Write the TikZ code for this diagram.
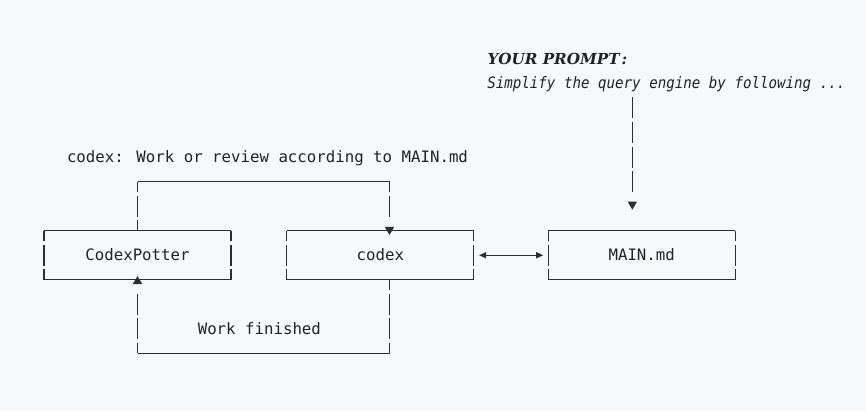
\documentclass[tikz,border=0pt]{standalone}
\usepackage{fontspec}
\newfontfamily\asciimono{DejaVu Sans Mono}
\newfontfamily\promptmono[FakeStretch=0.9]{DejaVu Sans Mono Oblique}
\newfontfamily\promptserif{DejaVu Serif Bold Italic}
\usetikzlibrary{arrows.meta}
\definecolor{bgc}{HTML}{F6F8FA}
\definecolor{ink}{HTML}{1F2328}
\definecolor{linec}{HTML}{2A2D31}
\newcommand\asciiframe[1]{%
  \draw[hline] (#1.north west) -- (#1.north east);
  \draw[hline] (#1.south west) -- (#1.south east);
  \draw[vline] (#1.north west) -- (#1.south west);
  \draw[vline] (#1.north east) -- (#1.south east);}
\begin{document}
\begin{tikzpicture}[x=0.75pt,y=-0.75pt,
  every node/.style={inner sep=0pt, outer sep=0pt, text=ink},
  mono/.style={font=\asciimono\fontsize{11.8pt}{14pt}\selectfont},
  asciibox/.style={mono, minimum width=140.25pt, minimum height=36.825pt, text height=8.6pt, text depth=0pt},
  hline/.style={draw=linec, line width=0.9pt},
  vline/.style={draw=linec, line width=0.9pt, dash pattern=on 15.75pt off 2.6625pt, dash phase=7.875pt},
  tri/.style={-{Triangle[length=6pt,width=6.75pt]}},
  linkdn/.style={draw=linec, line width=0.9pt, tri, dash pattern=on 7.875pt off 2.6625pt on 15.75pt off 40pt, shorten >=-3.2pt},
  linkup/.style={draw=linec, line width=0.9pt, tri, dash pattern=on 7.875pt off 2.6625pt on 15.75pt off 2.6625pt on 15.75pt off 40pt, shorten >=-2.85pt},
  linkprompt/.style={draw=linec, line width=0.9pt, tri, dash pattern=on 15.75pt off 2.6625pt on 15.75pt off 2.6625pt on 15.75pt off 2.6625pt on 15.75pt off 40pt, shorten >=15.75pt},
  linkboth/.style={draw=linec, line width=0.9pt, {Triangle[length=5.3pt,width=4.5pt]}-{Triangle[length=5.3pt,width=4.5pt]}, shorten >=3.75pt, shorten <=3.9pt}
]
\path[use as bounding box, fill=bgc] (0,0) rectangle (866,411);

% boxes
\node[asciibox] (cp) at (137.5,255.25) {CodexPotter};
\node[asciibox] (cx) at (380.3,255.25) {codex};
\node[asciibox] (md) at (641.7,255.25) {MAIN.md};
\asciiframe{cp}
\asciiframe{cx}
\asciiframe{md}

% texts
\node[mono, anchor=base west] (ttl) at (67,162.7) {codex: Work or review according to MAIN.md};
\node[mono, anchor=base west] (wf) at (197.8,334.5) {Work finished};
\node[font=\promptserif\fontsize{11.4pt}{14pt}\selectfont, anchor=base west] (yp) at (487.5,64.3) {YOUR PROMPT\kern1.5pt:};
\node[font=\promptmono\fontsize{11.8pt}{14pt}\selectfont, anchor=base west] (pr) at (487.3,88.8) {Simplify the query engine by following ...};

% corner coordinates
\coordinate (tl) at (137.5,181.5);
\coordinate (tr) at (389.5,181.5);
\coordinate (bl) at (137.5,353.4);
\coordinate (br) at (389.5,353.4);
\coordinate (ps) at (632.3,97.4);

% connectors
\draw[vline] (cp.north) -- (tl);
\draw[hline] (tl) -- (tr);
\draw[linkdn] (tr) -- (cx.north -| tr);
\draw[vline] (cx.south -| br) -- (br);
\draw[hline] (br) -- (bl);
\draw[linkup] (bl) -- (cp.south);
\draw[linkprompt] (ps) -- (ps |- md.north);
\draw[linkboth] (cx.east) -- (md.west);
\end{tikzpicture}
\end{document}
